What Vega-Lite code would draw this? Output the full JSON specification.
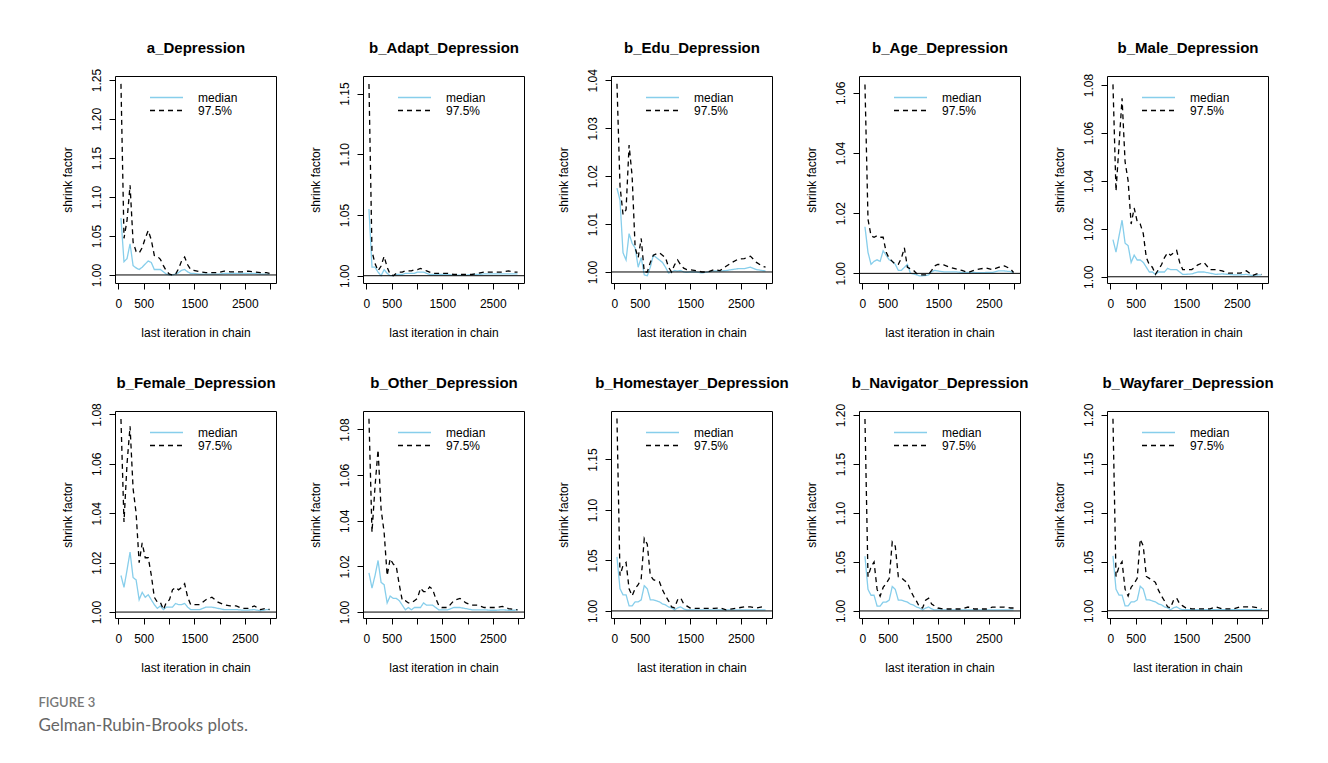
{
 "$schema": "https://vega.github.io/schema/vega-lite/v6.json",
 "padding": {"left": 38, "top": 39, "right": 50, "bottom": 30},
 "background": "white",
 "datasets": {"gr": [
{"p":"a","x":50,"m":1.073,"q":1.245},{"p":"a","x":110,"m":1.017,"q":1.047},{"p":"a","x":170,"m":1.021,"q":1.07},{"p":"a","x":230,"m":1.04,"q":1.115},{"p":"a","x":290,"m":1.012,"q":1.042},{"p":"a","x":350,"m":1.009,"q":1.03},{"p":"a","x":410,"m":1.007,"q":1.028},{"p":"a","x":470,"m":1.01,"q":1.035},{"p":"a","x":530,"m":1.014,"q":1.047},{"p":"a","x":590,"m":1.018,"q":1.057},{"p":"a","x":650,"m":1.016,"q":1.045},{"p":"a","x":710,"m":1.007,"q":1.025},{"p":"a","x":770,"m":1.007,"q":1.024},{"p":"a","x":830,"m":1.007,"q":1.02},{"p":"a","x":890,"m":1.004,"q":1.012},{"p":"a","x":950,"m":1.001,"q":1.005},{"p":"a","x":1010,"m":1.0,"q":1.001},{"p":"a","x":1070,"m":1.0,"q":1.0},{"p":"a","x":1130,"m":1.001,"q":1.001},{"p":"a","x":1190,"m":1.003,"q":1.008},{"p":"a","x":1250,"m":1.006,"q":1.018},{"p":"a","x":1310,"m":1.007,"q":1.023},{"p":"a","x":1370,"m":1.004,"q":1.013},{"p":"a","x":1430,"m":1.002,"q":1.007},{"p":"a","x":1490,"m":1.002,"q":1.006},{"p":"a","x":1610,"m":1.001,"q":1.004},{"p":"a","x":1730,"m":1.001,"q":1.003},{"p":"a","x":1850,"m":1.001,"q":1.003},{"p":"a","x":1970,"m":1.001,"q":1.003},{"p":"a","x":2090,"m":1.002,"q":1.005},{"p":"a","x":2210,"m":1.002,"q":1.004},{"p":"a","x":2330,"m":1.002,"q":1.004},{"p":"a","x":2450,"m":1.002,"q":1.004},{"p":"a","x":2570,"m":1.002,"q":1.005},{"p":"a","x":2690,"m":1.002,"q":1.004},{"p":"a","x":2810,"m":1.001,"q":1.003},{"p":"a","x":2930,"m":1.001,"q":1.003},{"p":"a","x":2990,"m":1.001,"q":1.002},
{"p":"adapt","x":50,"m":1.055,"q":1.158},{"p":"adapt","x":110,"m":1.007,"q":1.02},{"p":"adapt","x":170,"m":1.007,"q":1.01},{"p":"adapt","x":230,"m":1.003,"q":1.004},{"p":"adapt","x":290,"m":1.0,"q":1.008},{"p":"adapt","x":350,"m":1.005,"q":1.016},{"p":"adapt","x":410,"m":1.002,"q":1.007},{"p":"adapt","x":470,"m":1.0,"q":1.001},{"p":"adapt","x":530,"m":1.0,"q":1.0},{"p":"adapt","x":590,"m":1.001,"q":1.002},{"p":"adapt","x":650,"m":1.001,"q":1.003},{"p":"adapt","x":710,"m":1.001,"q":1.003},{"p":"adapt","x":770,"m":1.002,"q":1.004},{"p":"adapt","x":830,"m":1.002,"q":1.004},{"p":"adapt","x":890,"m":1.002,"q":1.004},{"p":"adapt","x":950,"m":1.002,"q":1.005},{"p":"adapt","x":1010,"m":1.003,"q":1.005},{"p":"adapt","x":1070,"m":1.003,"q":1.006},{"p":"adapt","x":1130,"m":1.003,"q":1.005},{"p":"adapt","x":1190,"m":1.002,"q":1.004},{"p":"adapt","x":1250,"m":1.001,"q":1.003},{"p":"adapt","x":1310,"m":1.001,"q":1.002},{"p":"adapt","x":1370,"m":1.001,"q":1.002},{"p":"adapt","x":1430,"m":1.001,"q":1.002},{"p":"adapt","x":1490,"m":1.001,"q":1.002},{"p":"adapt","x":1610,"m":1.001,"q":1.002},{"p":"adapt","x":1730,"m":1.0005,"q":1.001},{"p":"adapt","x":1850,"m":1.0005,"q":1.001},{"p":"adapt","x":1970,"m":1.0005,"q":1.001},{"p":"adapt","x":2090,"m":1.001,"q":1.001},{"p":"adapt","x":2210,"m":1.001,"q":1.002},{"p":"adapt","x":2330,"m":1.0015,"q":1.003},{"p":"adapt","x":2450,"m":1.0015,"q":1.003},{"p":"adapt","x":2570,"m":1.0015,"q":1.003},{"p":"adapt","x":2690,"m":1.0015,"q":1.003},{"p":"adapt","x":2810,"m":1.0015,"q":1.004},{"p":"adapt","x":2930,"m":1.0015,"q":1.003},{"p":"adapt","x":2990,"m":1.0015,"q":1.003},
{"p":"edu","x":50,"m":1.0175,"q":1.0393},{"p":"edu","x":110,"m":1.015,"q":1.018},{"p":"edu","x":170,"m":1.004,"q":1.012},{"p":"edu","x":230,"m":1.0025,"q":1.013},{"p":"edu","x":290,"m":1.008,"q":1.0265},{"p":"edu","x":350,"m":1.006,"q":1.02},{"p":"edu","x":410,"m":1.005,"q":1.005},{"p":"edu","x":470,"m":1.001,"q":1.003},{"p":"edu","x":530,"m":1.003,"q":1.007},{"p":"edu","x":590,"m":0.9994,"q":1.0},{"p":"edu","x":650,"m":0.9992,"q":1.0},{"p":"edu","x":710,"m":1.001,"q":1.002},{"p":"edu","x":770,"m":1.0035,"q":1.0035},{"p":"edu","x":830,"m":1.003,"q":1.0038},{"p":"edu","x":890,"m":1.0025,"q":1.004},{"p":"edu","x":950,"m":1.002,"q":1.0035},{"p":"edu","x":1010,"m":1.001,"q":1.003},{"p":"edu","x":1070,"m":0.9998,"q":1.001},{"p":"edu","x":1130,"m":1.0,"q":1.0},{"p":"edu","x":1190,"m":1.0003,"q":1.0015},{"p":"edu","x":1250,"m":1.0002,"q":1.0025},{"p":"edu","x":1310,"m":1.0003,"q":1.0015},{"p":"edu","x":1370,"m":1.0,"q":1.0008},{"p":"edu","x":1430,"m":0.9999,"q":1.0005},{"p":"edu","x":1490,"m":1.0,"q":1.0005},{"p":"edu","x":1610,"m":1.0,"q":1.0003},{"p":"edu","x":1730,"m":0.9998,"q":1.0},{"p":"edu","x":1850,"m":1.0,"q":1.0},{"p":"edu","x":1970,"m":1.0002,"q":1.0005},{"p":"edu","x":2090,"m":1.0002,"q":1.0003},{"p":"edu","x":2210,"m":1.0003,"q":1.0012},{"p":"edu","x":2330,"m":1.0005,"q":1.002},{"p":"edu","x":2450,"m":1.0007,"q":1.0027},{"p":"edu","x":2570,"m":1.0007,"q":1.0028},{"p":"edu","x":2690,"m":1.001,"q":1.0033},{"p":"edu","x":2810,"m":1.0005,"q":1.002},{"p":"edu","x":2930,"m":1.0003,"q":1.0012},{"p":"edu","x":2990,"m":1.0002,"q":1.001},
{"p":"age","x":50,"m":1.0155,"q":1.0628},{"p":"age","x":110,"m":1.007,"q":1.018},{"p":"age","x":170,"m":1.003,"q":1.0125},{"p":"age","x":230,"m":1.004,"q":1.012},{"p":"age","x":290,"m":1.0045,"q":1.0125},{"p":"age","x":350,"m":1.004,"q":1.012},{"p":"age","x":410,"m":1.0075,"q":1.012},{"p":"age","x":470,"m":1.006,"q":1.007},{"p":"age","x":530,"m":1.0045,"q":1.005},{"p":"age","x":590,"m":1.004,"q":1.004},{"p":"age","x":650,"m":1.003,"q":1.003},{"p":"age","x":710,"m":1.001,"q":1.003},{"p":"age","x":770,"m":1.001,"q":1.005},{"p":"age","x":830,"m":1.002,"q":1.0085},{"p":"age","x":890,"m":1.003,"q":1.002},{"p":"age","x":950,"m":1.0,"q":1.0015},{"p":"age","x":1010,"m":0.9998,"q":1.001},{"p":"age","x":1070,"m":0.9995,"q":1.0},{"p":"age","x":1130,"m":0.9992,"q":0.9995},{"p":"age","x":1190,"m":0.9992,"q":0.9995},{"p":"age","x":1250,"m":0.9993,"q":0.9995},{"p":"age","x":1310,"m":0.9995,"q":0.9997},{"p":"age","x":1370,"m":1.0005,"q":1.001},{"p":"age","x":1430,"m":1.001,"q":1.0025},{"p":"age","x":1490,"m":1.0008,"q":1.003},{"p":"age","x":1610,"m":1.0005,"q":1.0028},{"p":"age","x":1730,"m":1.0005,"q":1.002},{"p":"age","x":1850,"m":1.0005,"q":1.0015},{"p":"age","x":1970,"m":1.0003,"q":1.001},{"p":"age","x":2090,"m":1.0003,"q":1.0003},{"p":"age","x":2210,"m":1.0003,"q":1.001},{"p":"age","x":2330,"m":1.0002,"q":1.0015},{"p":"age","x":2450,"m":1.0003,"q":1.0018},{"p":"age","x":2570,"m":1.0003,"q":1.0012},{"p":"age","x":2690,"m":1.0008,"q":1.002},{"p":"age","x":2810,"m":1.0008,"q":1.0025},{"p":"age","x":2930,"m":1.0006,"q":1.0015},{"p":"age","x":2990,"m":1.0002,"q":1.0003},
{"p":"male","x":50,"m":1.0155,"q":1.0803},{"p":"male","x":110,"m":1.0103,"q":1.0357},{"p":"male","x":170,"m":1.017,"q":1.055},{"p":"male","x":230,"m":1.0236,"q":1.0745},{"p":"male","x":290,"m":1.014,"q":1.048},{"p":"male","x":350,"m":1.013,"q":1.04},{"p":"male","x":410,"m":1.006,"q":1.022},{"p":"male","x":470,"m":1.009,"q":1.0287},{"p":"male","x":530,"m":1.007,"q":1.023},{"p":"male","x":590,"m":1.007,"q":1.022},{"p":"male","x":650,"m":1.006,"q":1.018},{"p":"male","x":710,"m":1.004,"q":1.008},{"p":"male","x":770,"m":1.002,"q":1.005},{"p":"male","x":830,"m":1.002,"q":1.004},{"p":"male","x":890,"m":1.001,"q":1.001},{"p":"male","x":950,"m":1.002,"q":1.003},{"p":"male","x":1010,"m":1.002,"q":1.005},{"p":"male","x":1070,"m":1.002,"q":1.008},{"p":"male","x":1130,"m":1.0035,"q":1.01},{"p":"male","x":1190,"m":1.003,"q":1.009},{"p":"male","x":1250,"m":1.003,"q":1.01},{"p":"male","x":1310,"m":1.003,"q":1.011},{"p":"male","x":1370,"m":1.002,"q":1.006},{"p":"male","x":1430,"m":1.001,"q":1.003},{"p":"male","x":1490,"m":1.001,"q":1.003},{"p":"male","x":1610,"m":1.0012,"q":1.003},{"p":"male","x":1730,"m":1.002,"q":1.005},{"p":"male","x":1850,"m":1.002,"q":1.006},{"p":"male","x":1970,"m":1.0015,"q":1.003},{"p":"male","x":2090,"m":1.001,"q":1.003},{"p":"male","x":2210,"m":1.0012,"q":1.0025},{"p":"male","x":2330,"m":1.001,"q":1.0015},{"p":"male","x":2450,"m":1.0008,"q":1.0015},{"p":"male","x":2570,"m":1.0008,"q":1.0015},{"p":"male","x":2690,"m":1.001,"q":1.0025},{"p":"male","x":2810,"m":1.0005,"q":1.0005},{"p":"male","x":2930,"m":1.0008,"q":1.0015},{"p":"male","x":2990,"m":1.0008,"q":1.001},
{"p":"female","x":50,"m":1.0148,"q":1.0782},{"p":"female","x":110,"m":1.01,"q":1.0365},{"p":"female","x":170,"m":1.017,"q":1.06},{"p":"female","x":230,"m":1.0243,"q":1.0752},{"p":"female","x":290,"m":1.014,"q":1.05},{"p":"female","x":350,"m":1.013,"q":1.04},{"p":"female","x":410,"m":1.005,"q":1.02},{"p":"female","x":470,"m":1.008,"q":1.028},{"p":"female","x":530,"m":1.006,"q":1.022},{"p":"female","x":590,"m":1.007,"q":1.022},{"p":"female","x":650,"m":1.005,"q":1.015},{"p":"female","x":710,"m":1.003,"q":1.006},{"p":"female","x":770,"m":1.0015,"q":1.004},{"p":"female","x":830,"m":1.0025,"q":1.004},{"p":"female","x":890,"m":1.001,"q":1.001},{"p":"female","x":950,"m":1.002,"q":1.004},{"p":"female","x":1010,"m":1.002,"q":1.005},{"p":"female","x":1070,"m":1.002,"q":1.009},{"p":"female","x":1130,"m":1.0035,"q":1.01},{"p":"female","x":1190,"m":1.003,"q":1.009},{"p":"female","x":1250,"m":1.003,"q":1.01},{"p":"female","x":1310,"m":1.0035,"q":1.0115},{"p":"female","x":1370,"m":1.002,"q":1.006},{"p":"female","x":1430,"m":1.001,"q":1.003},{"p":"female","x":1490,"m":1.001,"q":1.003},{"p":"female","x":1610,"m":1.001,"q":1.003},{"p":"female","x":1730,"m":1.002,"q":1.005},{"p":"female","x":1850,"m":1.002,"q":1.006},{"p":"female","x":1970,"m":1.0015,"q":1.004},{"p":"female","x":2090,"m":1.001,"q":1.003},{"p":"female","x":2210,"m":1.001,"q":1.0025},{"p":"female","x":2330,"m":1.001,"q":1.0025},{"p":"female","x":2450,"m":1.0008,"q":1.0015},{"p":"female","x":2570,"m":1.0008,"q":1.0015},{"p":"female","x":2690,"m":1.001,"q":1.0025},{"p":"female","x":2810,"m":1.0005,"q":1.001},{"p":"female","x":2930,"m":1.001,"q":1.0015},{"p":"female","x":2990,"m":1.001,"q":1.001},
{"p":"other","x":50,"m":1.0172,"q":1.0847},{"p":"other","x":110,"m":1.0105,"q":1.035},{"p":"other","x":170,"m":1.016,"q":1.055},{"p":"other","x":230,"m":1.0226,"q":1.0711},{"p":"other","x":290,"m":1.013,"q":1.045},{"p":"other","x":350,"m":1.012,"q":1.035},{"p":"other","x":410,"m":1.004,"q":1.016},{"p":"other","x":470,"m":1.007,"q":1.0234},{"p":"other","x":530,"m":1.006,"q":1.021},{"p":"other","x":590,"m":1.006,"q":1.02},{"p":"other","x":650,"m":1.005,"q":1.012},{"p":"other","x":710,"m":1.003,"q":1.005},{"p":"other","x":770,"m":1.001,"q":1.005},{"p":"other","x":830,"m":1.002,"q":1.004},{"p":"other","x":890,"m":1.001,"q":1.004},{"p":"other","x":950,"m":1.002,"q":1.005},{"p":"other","x":1010,"m":1.002,"q":1.006},{"p":"other","x":1070,"m":1.002,"q":1.0105},{"p":"other","x":1130,"m":1.004,"q":1.009},{"p":"other","x":1190,"m":1.003,"q":1.009},{"p":"other","x":1250,"m":1.003,"q":1.011},{"p":"other","x":1310,"m":1.003,"q":1.01},{"p":"other","x":1370,"m":1.002,"q":1.006},{"p":"other","x":1430,"m":1.001,"q":1.003},{"p":"other","x":1490,"m":1.001,"q":1.002},{"p":"other","x":1610,"m":1.001,"q":1.002},{"p":"other","x":1730,"m":1.002,"q":1.005},{"p":"other","x":1850,"m":1.002,"q":1.006},{"p":"other","x":1970,"m":1.0015,"q":1.004},{"p":"other","x":2090,"m":1.001,"q":1.003},{"p":"other","x":2210,"m":1.001,"q":1.003},{"p":"other","x":2330,"m":1.001,"q":1.002},{"p":"other","x":2450,"m":1.0008,"q":1.002},{"p":"other","x":2570,"m":1.0008,"q":1.002},{"p":"other","x":2690,"m":1.001,"q":1.0025},{"p":"other","x":2810,"m":1.0008,"q":1.0015},{"p":"other","x":2930,"m":1.0008,"q":1.0012},{"p":"other","x":2990,"m":1.001,"q":1.001},
{"p":"home","x":50,"m":1.0535,"q":1.1906},{"p":"home","x":110,"m":1.022,"q":1.035},{"p":"home","x":170,"m":1.016,"q":1.045},{"p":"home","x":230,"m":1.016,"q":1.048},{"p":"home","x":290,"m":1.005,"q":1.022},{"p":"home","x":350,"m":1.005,"q":1.015},{"p":"home","x":410,"m":1.009,"q":1.022},{"p":"home","x":470,"m":1.009,"q":1.026},{"p":"home","x":530,"m":1.011,"q":1.032},{"p":"home","x":590,"m":1.025,"q":1.0718},{"p":"home","x":650,"m":1.022,"q":1.066},{"p":"home","x":710,"m":1.011,"q":1.035},{"p":"home","x":770,"m":1.011,"q":1.031},{"p":"home","x":830,"m":1.01,"q":1.03},{"p":"home","x":890,"m":1.009,"q":1.029},{"p":"home","x":950,"m":1.007,"q":1.021},{"p":"home","x":1010,"m":1.006,"q":1.015},{"p":"home","x":1070,"m":1.004,"q":1.01},{"p":"home","x":1130,"m":1.003,"q":1.004},{"p":"home","x":1190,"m":1.001,"q":1.003},{"p":"home","x":1250,"m":1.003,"q":1.011},{"p":"home","x":1310,"m":1.004,"q":1.013},{"p":"home","x":1370,"m":1.002,"q":1.007},{"p":"home","x":1430,"m":1.001,"q":1.005},{"p":"home","x":1490,"m":1.001,"q":1.003},{"p":"home","x":1610,"m":1.001,"q":1.0025},{"p":"home","x":1730,"m":1.001,"q":1.0025},{"p":"home","x":1850,"m":1.001,"q":1.0025},{"p":"home","x":1970,"m":1.001,"q":1.0025},{"p":"home","x":2090,"m":1.001,"q":1.003},{"p":"home","x":2210,"m":1.001,"q":1.001},{"p":"home","x":2330,"m":1.001,"q":1.002},{"p":"home","x":2450,"m":1.001,"q":1.003},{"p":"home","x":2570,"m":1.001,"q":1.004},{"p":"home","x":2690,"m":1.001,"q":1.004},{"p":"home","x":2810,"m":1.001,"q":1.003},{"p":"home","x":2930,"m":1.001,"q":1.004},{"p":"home","x":2990,"m":1.001,"q":1.003},
{"p":"nav","x":50,"m":1.0558,"q":1.196},{"p":"nav","x":110,"m":1.022,"q":1.035},{"p":"nav","x":170,"m":1.016,"q":1.045},{"p":"nav","x":230,"m":1.016,"q":1.05},{"p":"nav","x":290,"m":1.005,"q":1.022},{"p":"nav","x":350,"m":1.005,"q":1.015},{"p":"nav","x":410,"m":1.009,"q":1.024},{"p":"nav","x":470,"m":1.009,"q":1.028},{"p":"nav","x":530,"m":1.011,"q":1.033},{"p":"nav","x":590,"m":1.025,"q":1.0705},{"p":"nav","x":650,"m":1.022,"q":1.066},{"p":"nav","x":710,"m":1.011,"q":1.035},{"p":"nav","x":770,"m":1.011,"q":1.034},{"p":"nav","x":830,"m":1.01,"q":1.031},{"p":"nav","x":890,"m":1.009,"q":1.029},{"p":"nav","x":950,"m":1.007,"q":1.021},{"p":"nav","x":1010,"m":1.006,"q":1.015},{"p":"nav","x":1070,"m":1.004,"q":1.01},{"p":"nav","x":1130,"m":1.003,"q":1.004},{"p":"nav","x":1190,"m":1.001,"q":1.003},{"p":"nav","x":1250,"m":1.003,"q":1.011},{"p":"nav","x":1310,"m":1.004,"q":1.013},{"p":"nav","x":1370,"m":1.002,"q":1.007},{"p":"nav","x":1430,"m":1.001,"q":1.005},{"p":"nav","x":1490,"m":1.001,"q":1.003},{"p":"nav","x":1610,"m":1.001,"q":1.002},{"p":"nav","x":1730,"m":1.001,"q":1.002},{"p":"nav","x":1850,"m":1.001,"q":1.002},{"p":"nav","x":1970,"m":1.001,"q":1.002},{"p":"nav","x":2090,"m":1.001,"q":1.004},{"p":"nav","x":2210,"m":1.001,"q":1.002},{"p":"nav","x":2330,"m":1.001,"q":1.002},{"p":"nav","x":2450,"m":1.001,"q":1.002},{"p":"nav","x":2570,"m":1.001,"q":1.004},{"p":"nav","x":2690,"m":1.001,"q":1.004},{"p":"nav","x":2810,"m":1.001,"q":1.004},{"p":"nav","x":2930,"m":1.001,"q":1.003},{"p":"nav","x":2990,"m":1.001,"q":1.003},
{"p":"way","x":50,"m":1.056,"q":1.196},{"p":"way","x":110,"m":1.022,"q":1.035},{"p":"way","x":170,"m":1.016,"q":1.045},{"p":"way","x":230,"m":1.016,"q":1.05},{"p":"way","x":290,"m":1.005,"q":1.022},{"p":"way","x":350,"m":1.005,"q":1.015},{"p":"way","x":410,"m":1.009,"q":1.024},{"p":"way","x":470,"m":1.009,"q":1.028},{"p":"way","x":530,"m":1.011,"q":1.033},{"p":"way","x":590,"m":1.025,"q":1.073},{"p":"way","x":650,"m":1.022,"q":1.066},{"p":"way","x":710,"m":1.011,"q":1.035},{"p":"way","x":770,"m":1.011,"q":1.033},{"p":"way","x":830,"m":1.01,"q":1.031},{"p":"way","x":890,"m":1.009,"q":1.029},{"p":"way","x":950,"m":1.007,"q":1.021},{"p":"way","x":1010,"m":1.006,"q":1.015},{"p":"way","x":1070,"m":1.004,"q":1.01},{"p":"way","x":1130,"m":1.003,"q":1.004},{"p":"way","x":1190,"m":1.001,"q":1.003},{"p":"way","x":1250,"m":1.003,"q":1.011},{"p":"way","x":1310,"m":1.004,"q":1.013},{"p":"way","x":1370,"m":1.002,"q":1.007},{"p":"way","x":1430,"m":1.001,"q":1.005},{"p":"way","x":1490,"m":1.001,"q":1.003},{"p":"way","x":1610,"m":1.001,"q":1.002},{"p":"way","x":1730,"m":1.001,"q":1.002},{"p":"way","x":1850,"m":1.001,"q":1.002},{"p":"way","x":1970,"m":1.001,"q":1.002},{"p":"way","x":2090,"m":1.001,"q":1.004},{"p":"way","x":2210,"m":1.001,"q":1.002},{"p":"way","x":2330,"m":1.001,"q":1.002},{"p":"way","x":2450,"m":1.001,"q":1.002},{"p":"way","x":2570,"m":1.001,"q":1.004},{"p":"way","x":2690,"m":1.001,"q":1.004},{"p":"way","x":2810,"m":1.001,"q":1.004},{"p":"way","x":2930,"m":1.001,"q":1.003},{"p":"way","x":2990,"m":1.001,"q":1.002}
 ]},
 "data": {"name": "gr"},
 "title": {"text": "FIGURE 3", "subtitle": "Gelman-Rubin-Brooks plots.", "orient": "bottom", "anchor": "start", "frame": "bounds", "offset": 23, "dx": -22, "font": "Lato", "fontSize": 13, "fontWeight": 600, "color": "#777777", "subtitleFont": "Lato", "subtitleFontSize": 17, "subtitleColor": "#666666", "subtitlePadding": 8, "baseline": "top"},
 "bounds": "flush",
 "columns": 5,
 "spacing": {"row": 128, "column": 87},
 "resolve": {"scale": {"color": "independent", "strokeDash": "independent"}, "legend": {"color": "independent", "strokeDash": "independent"}},
 "concat": [
    {"width": 161, "height": 207, "resolve": {"axis": {"x": "independent"}}, "layer": [
     {"transform": [{"filter": "datum.p == 'a'"}, {"fold": ["m", "q"], "as": ["series", "value"]}], "mark": {"type": "line", "strokeWidth": 1.3},
      "encoding": {
       "x": {"field": "x", "type": "quantitative", "scale": {"domain": [-68, 3118], "nice": false, "zero": false}, "axis": {"values": [0, 500, 1000, 1500, 2000, 2500, 3000], "format": "d", "labelExpr": "indexof([0,500,1500,2500], datum.value) >= 0 ? datum.label : ''", "title": "last iteration in chain"}},
       "y": {"field": "value", "type": "quantitative", "scale": {"domain": [0.9897, 1.2551], "nice": false, "zero": false}, "axis": {"values": [1, 1.05, 1.1, 1.15, 1.2, 1.25], "format": ".2f", "title": "shrink factor"}},
       "color": {"field": "series", "type": "nominal", "scale": {"domain": ["m", "q"], "range": ["#87CEEB", "#000000"]}, "legend": {"orient": "none", "legendX": 34, "legendY": 15, "title": null, "labelExpr": "datum.label == 'q' ? '97.5%' : 'median'"}},
       "strokeDash": {"field": "series", "type": "nominal", "scale": {"domain": ["m", "q"], "range": [[1, 0], [5, 4]]}, "legend": {"orient": "none", "legendX": 34, "legendY": 15, "title": null, "labelExpr": "datum.label == 'q' ? '97.5%' : 'median'"}}
      }},
     {"data": {"values": [{}]}, "mark": {"type": "rule", "color": "black", "strokeWidth": 1}, "encoding": {"y": {"datum": 1}}},
     {"data": {"values": [{}]}, "mark": {"type": "text", "text": ""}, "encoding": {"x": {"datum": 0, "type": "quantitative", "axis": {"orient": "top", "title": "a_Depression", "domain": false, "ticks": false, "labels": false, "tickSize": 0, "titleFontSize": 15, "titleFontWeight": "bold", "titleBaseline": "alphabetic", "titlePadding": 24}}}}
    ]},
    {"width": 161, "height": 207, "resolve": {"axis": {"x": "independent"}}, "layer": [
     {"transform": [{"filter": "datum.p == 'adapt'"}, {"fold": ["m", "q"], "as": ["series", "value"]}], "mark": {"type": "line", "strokeWidth": 1.3},
      "encoding": {
       "x": {"field": "x", "type": "quantitative", "scale": {"domain": [-68, 3118], "nice": false, "zero": false}, "axis": {"values": [0, 500, 1000, 1500, 2000, 2500, 3000], "format": "d", "labelExpr": "indexof([0,500,1500,2500], datum.value) >= 0 ? datum.label : ''", "title": "last iteration in chain"}},
       "y": {"field": "value", "type": "quantitative", "scale": {"domain": [0.994, 1.1645], "nice": false, "zero": false}, "axis": {"values": [1, 1.05, 1.1, 1.15], "format": ".2f", "title": "shrink factor"}},
       "color": {"field": "series", "type": "nominal", "scale": {"domain": ["m", "q"], "range": ["#87CEEB", "#000000"]}, "legend": {"orient": "none", "legendX": 34, "legendY": 15, "title": null, "labelExpr": "datum.label == 'q' ? '97.5%' : 'median'"}},
       "strokeDash": {"field": "series", "type": "nominal", "scale": {"domain": ["m", "q"], "range": [[1, 0], [5, 4]]}, "legend": {"orient": "none", "legendX": 34, "legendY": 15, "title": null, "labelExpr": "datum.label == 'q' ? '97.5%' : 'median'"}}
      }},
     {"data": {"values": [{}]}, "mark": {"type": "rule", "color": "black", "strokeWidth": 1}, "encoding": {"y": {"datum": 1}}},
     {"data": {"values": [{}]}, "mark": {"type": "text", "text": ""}, "encoding": {"x": {"datum": 0, "type": "quantitative", "axis": {"orient": "top", "title": "b_Adapt_Depression", "domain": false, "ticks": false, "labels": false, "tickSize": 0, "titleFontSize": 15, "titleFontWeight": "bold", "titleBaseline": "alphabetic", "titlePadding": 24}}}}
    ]},
    {"width": 161, "height": 207, "resolve": {"axis": {"x": "independent"}}, "layer": [
     {"transform": [{"filter": "datum.p == 'edu'"}, {"fold": ["m", "q"], "as": ["series", "value"]}], "mark": {"type": "line", "strokeWidth": 1.3},
      "encoding": {
       "x": {"field": "x", "type": "quantitative", "scale": {"domain": [-68, 3118], "nice": false, "zero": false}, "axis": {"values": [0, 500, 1000, 1500, 2000, 2500, 3000], "format": "d", "labelExpr": "indexof([0,500,1500,2500], datum.value) >= 0 ? datum.label : ''", "title": "last iteration in chain"}},
       "y": {"field": "value", "type": "quantitative", "scale": {"domain": [0.9977, 1.0409], "nice": false, "zero": false}, "axis": {"values": [1, 1.01, 1.02, 1.03, 1.04], "format": ".2f", "title": "shrink factor"}},
       "color": {"field": "series", "type": "nominal", "scale": {"domain": ["m", "q"], "range": ["#87CEEB", "#000000"]}, "legend": {"orient": "none", "legendX": 34, "legendY": 15, "title": null, "labelExpr": "datum.label == 'q' ? '97.5%' : 'median'"}},
       "strokeDash": {"field": "series", "type": "nominal", "scale": {"domain": ["m", "q"], "range": [[1, 0], [5, 4]]}, "legend": {"orient": "none", "legendX": 34, "legendY": 15, "title": null, "labelExpr": "datum.label == 'q' ? '97.5%' : 'median'"}}
      }},
     {"data": {"values": [{}]}, "mark": {"type": "rule", "color": "black", "strokeWidth": 1}, "encoding": {"y": {"datum": 1}}},
     {"data": {"values": [{}]}, "mark": {"type": "text", "text": ""}, "encoding": {"x": {"datum": 0, "type": "quantitative", "axis": {"orient": "top", "title": "b_Edu_Depression", "domain": false, "ticks": false, "labels": false, "tickSize": 0, "titleFontSize": 15, "titleFontWeight": "bold", "titleBaseline": "alphabetic", "titlePadding": 24}}}}
    ]},
    {"width": 161, "height": 207, "resolve": {"axis": {"x": "independent"}}, "layer": [
     {"transform": [{"filter": "datum.p == 'age'"}, {"fold": ["m", "q"], "as": ["series", "value"]}], "mark": {"type": "line", "strokeWidth": 1.3},
      "encoding": {
       "x": {"field": "x", "type": "quantitative", "scale": {"domain": [-68, 3118], "nice": false, "zero": false}, "axis": {"values": [0, 500, 1000, 1500, 2000, 2500, 3000], "format": "d", "labelExpr": "indexof([0,500,1500,2500], datum.value) >= 0 ? datum.label : ''", "title": "last iteration in chain"}},
       "y": {"field": "value", "type": "quantitative", "scale": {"domain": [0.9968, 1.0656], "nice": false, "zero": false}, "axis": {"values": [1, 1.01, 1.02, 1.03, 1.04, 1.05, 1.06], "format": ".2f", "labelExpr": "round(datum.value * 100) % 2 == 0 ? datum.label : ''", "title": "shrink factor"}},
       "color": {"field": "series", "type": "nominal", "scale": {"domain": ["m", "q"], "range": ["#87CEEB", "#000000"]}, "legend": {"orient": "none", "legendX": 34, "legendY": 15, "title": null, "labelExpr": "datum.label == 'q' ? '97.5%' : 'median'"}},
       "strokeDash": {"field": "series", "type": "nominal", "scale": {"domain": ["m", "q"], "range": [[1, 0], [5, 4]]}, "legend": {"orient": "none", "legendX": 34, "legendY": 15, "title": null, "labelExpr": "datum.label == 'q' ? '97.5%' : 'median'"}}
      }},
     {"data": {"values": [{}]}, "mark": {"type": "rule", "color": "black", "strokeWidth": 1}, "encoding": {"y": {"datum": 1}}},
     {"data": {"values": [{}]}, "mark": {"type": "text", "text": ""}, "encoding": {"x": {"datum": 0, "type": "quantitative", "axis": {"orient": "top", "title": "b_Age_Depression", "domain": false, "ticks": false, "labels": false, "tickSize": 0, "titleFontSize": 15, "titleFontWeight": "bold", "titleBaseline": "alphabetic", "titlePadding": 24}}}}
    ]},
    {"width": 161, "height": 207, "resolve": {"axis": {"x": "independent"}}, "layer": [
     {"transform": [{"filter": "datum.p == 'male'"}, {"fold": ["m", "q"], "as": ["series", "value"]}], "mark": {"type": "line", "strokeWidth": 1.3},
      "encoding": {
       "x": {"field": "x", "type": "quantitative", "scale": {"domain": [-68, 3118], "nice": false, "zero": false}, "axis": {"values": [0, 500, 1000, 1500, 2000, 2500, 3000], "format": "d", "labelExpr": "indexof([0,500,1500,2500], datum.value) >= 0 ? datum.label : ''", "title": "last iteration in chain"}},
       "y": {"field": "value", "type": "quantitative", "scale": {"domain": [0.9974, 1.0838], "nice": false, "zero": false}, "axis": {"values": [1, 1.02, 1.04, 1.06, 1.08], "format": ".2f", "title": "shrink factor"}},
       "color": {"field": "series", "type": "nominal", "scale": {"domain": ["m", "q"], "range": ["#87CEEB", "#000000"]}, "legend": {"orient": "none", "legendX": 34, "legendY": 15, "title": null, "labelExpr": "datum.label == 'q' ? '97.5%' : 'median'"}},
       "strokeDash": {"field": "series", "type": "nominal", "scale": {"domain": ["m", "q"], "range": [[1, 0], [5, 4]]}, "legend": {"orient": "none", "legendX": 34, "legendY": 15, "title": null, "labelExpr": "datum.label == 'q' ? '97.5%' : 'median'"}}
      }},
     {"data": {"values": [{}]}, "mark": {"type": "rule", "color": "black", "strokeWidth": 1}, "encoding": {"y": {"datum": 1}}},
     {"data": {"values": [{}]}, "mark": {"type": "text", "text": ""}, "encoding": {"x": {"datum": 0, "type": "quantitative", "axis": {"orient": "top", "title": "b_Male_Depression", "domain": false, "ticks": false, "labels": false, "tickSize": 0, "titleFontSize": 15, "titleFontWeight": "bold", "titleBaseline": "alphabetic", "titlePadding": 24}}}}
    ]},
    {"width": 161, "height": 207, "resolve": {"axis": {"x": "independent"}}, "layer": [
     {"transform": [{"filter": "datum.p == 'female'"}, {"fold": ["m", "q"], "as": ["series", "value"]}], "mark": {"type": "line", "strokeWidth": 1.3},
      "encoding": {
       "x": {"field": "x", "type": "quantitative", "scale": {"domain": [-68, 3118], "nice": false, "zero": false}, "axis": {"values": [0, 500, 1000, 1500, 2000, 2500, 3000], "format": "d", "labelExpr": "indexof([0,500,1500,2500], datum.value) >= 0 ? datum.label : ''", "title": "last iteration in chain"}},
       "y": {"field": "value", "type": "quantitative", "scale": {"domain": [0.9976, 1.0814], "nice": false, "zero": false}, "axis": {"values": [1, 1.02, 1.04, 1.06, 1.08], "format": ".2f", "title": "shrink factor"}},
       "color": {"field": "series", "type": "nominal", "scale": {"domain": ["m", "q"], "range": ["#87CEEB", "#000000"]}, "legend": {"orient": "none", "legendX": 34, "legendY": 15, "title": null, "labelExpr": "datum.label == 'q' ? '97.5%' : 'median'"}},
       "strokeDash": {"field": "series", "type": "nominal", "scale": {"domain": ["m", "q"], "range": [[1, 0], [5, 4]]}, "legend": {"orient": "none", "legendX": 34, "legendY": 15, "title": null, "labelExpr": "datum.label == 'q' ? '97.5%' : 'median'"}}
      }},
     {"data": {"values": [{}]}, "mark": {"type": "rule", "color": "black", "strokeWidth": 1}, "encoding": {"y": {"datum": 1}}},
     {"data": {"values": [{}]}, "mark": {"type": "text", "text": ""}, "encoding": {"x": {"datum": 0, "type": "quantitative", "axis": {"orient": "top", "title": "b_Female_Depression", "domain": false, "ticks": false, "labels": false, "tickSize": 0, "titleFontSize": 15, "titleFontWeight": "bold", "titleBaseline": "alphabetic", "titlePadding": 24}}}}
    ]},
    {"width": 161, "height": 207, "resolve": {"axis": {"x": "independent"}}, "layer": [
     {"transform": [{"filter": "datum.p == 'other'"}, {"fold": ["m", "q"], "as": ["series", "value"]}], "mark": {"type": "line", "strokeWidth": 1.3},
      "encoding": {
       "x": {"field": "x", "type": "quantitative", "scale": {"domain": [-68, 3118], "nice": false, "zero": false}, "axis": {"values": [0, 500, 1000, 1500, 2000, 2500, 3000], "format": "d", "labelExpr": "indexof([0,500,1500,2500], datum.value) >= 0 ? datum.label : ''", "title": "last iteration in chain"}},
       "y": {"field": "value", "type": "quantitative", "scale": {"domain": [0.9974, 1.0881], "nice": false, "zero": false}, "axis": {"values": [1, 1.02, 1.04, 1.06, 1.08], "format": ".2f", "title": "shrink factor"}},
       "color": {"field": "series", "type": "nominal", "scale": {"domain": ["m", "q"], "range": ["#87CEEB", "#000000"]}, "legend": {"orient": "none", "legendX": 34, "legendY": 15, "title": null, "labelExpr": "datum.label == 'q' ? '97.5%' : 'median'"}},
       "strokeDash": {"field": "series", "type": "nominal", "scale": {"domain": ["m", "q"], "range": [[1, 0], [5, 4]]}, "legend": {"orient": "none", "legendX": 34, "legendY": 15, "title": null, "labelExpr": "datum.label == 'q' ? '97.5%' : 'median'"}}
      }},
     {"data": {"values": [{}]}, "mark": {"type": "rule", "color": "black", "strokeWidth": 1}, "encoding": {"y": {"datum": 1}}},
     {"data": {"values": [{}]}, "mark": {"type": "text", "text": ""}, "encoding": {"x": {"datum": 0, "type": "quantitative", "axis": {"orient": "top", "title": "b_Other_Depression", "domain": false, "ticks": false, "labels": false, "tickSize": 0, "titleFontSize": 15, "titleFontWeight": "bold", "titleBaseline": "alphabetic", "titlePadding": 24}}}}
    ]},
    {"width": 161, "height": 207, "resolve": {"axis": {"x": "independent"}}, "layer": [
     {"transform": [{"filter": "datum.p == 'home'"}, {"fold": ["m", "q"], "as": ["series", "value"]}], "mark": {"type": "line", "strokeWidth": 1.3},
      "encoding": {
       "x": {"field": "x", "type": "quantitative", "scale": {"domain": [-68, 3118], "nice": false, "zero": false}, "axis": {"values": [0, 500, 1000, 1500, 2000, 2500, 3000], "format": "d", "labelExpr": "indexof([0,500,1500,2500], datum.value) >= 0 ? datum.label : ''", "title": "last iteration in chain"}},
       "y": {"field": "value", "type": "quantitative", "scale": {"domain": [0.993, 1.198], "nice": false, "zero": false}, "axis": {"values": [1, 1.05, 1.1, 1.15], "format": ".2f", "title": "shrink factor"}},
       "color": {"field": "series", "type": "nominal", "scale": {"domain": ["m", "q"], "range": ["#87CEEB", "#000000"]}, "legend": {"orient": "none", "legendX": 34, "legendY": 15, "title": null, "labelExpr": "datum.label == 'q' ? '97.5%' : 'median'"}},
       "strokeDash": {"field": "series", "type": "nominal", "scale": {"domain": ["m", "q"], "range": [[1, 0], [5, 4]]}, "legend": {"orient": "none", "legendX": 34, "legendY": 15, "title": null, "labelExpr": "datum.label == 'q' ? '97.5%' : 'median'"}}
      }},
     {"data": {"values": [{}]}, "mark": {"type": "rule", "color": "black", "strokeWidth": 1}, "encoding": {"y": {"datum": 1}}},
     {"data": {"values": [{}]}, "mark": {"type": "text", "text": ""}, "encoding": {"x": {"datum": 0, "type": "quantitative", "axis": {"orient": "top", "title": "b_Homestayer_Depression", "domain": false, "ticks": false, "labels": false, "tickSize": 0, "titleFontSize": 15, "titleFontWeight": "bold", "titleBaseline": "alphabetic", "titlePadding": 24}}}}
    ]},
    {"width": 161, "height": 207, "resolve": {"axis": {"x": "independent"}}, "layer": [
     {"transform": [{"filter": "datum.p == 'nav'"}, {"fold": ["m", "q"], "as": ["series", "value"]}], "mark": {"type": "line", "strokeWidth": 1.3},
      "encoding": {
       "x": {"field": "x", "type": "quantitative", "scale": {"domain": [-68, 3118], "nice": false, "zero": false}, "axis": {"values": [0, 500, 1000, 1500, 2000, 2500, 3000], "format": "d", "labelExpr": "indexof([0,500,1500,2500], datum.value) >= 0 ? datum.label : ''", "title": "last iteration in chain"}},
       "y": {"field": "value", "type": "quantitative", "scale": {"domain": [0.9928, 1.2041], "nice": false, "zero": false}, "axis": {"values": [1, 1.05, 1.1, 1.15, 1.2], "format": ".2f", "title": "shrink factor"}},
       "color": {"field": "series", "type": "nominal", "scale": {"domain": ["m", "q"], "range": ["#87CEEB", "#000000"]}, "legend": {"orient": "none", "legendX": 34, "legendY": 15, "title": null, "labelExpr": "datum.label == 'q' ? '97.5%' : 'median'"}},
       "strokeDash": {"field": "series", "type": "nominal", "scale": {"domain": ["m", "q"], "range": [[1, 0], [5, 4]]}, "legend": {"orient": "none", "legendX": 34, "legendY": 15, "title": null, "labelExpr": "datum.label == 'q' ? '97.5%' : 'median'"}}
      }},
     {"data": {"values": [{}]}, "mark": {"type": "rule", "color": "black", "strokeWidth": 1}, "encoding": {"y": {"datum": 1}}},
     {"data": {"values": [{}]}, "mark": {"type": "text", "text": ""}, "encoding": {"x": {"datum": 0, "type": "quantitative", "axis": {"orient": "top", "title": "b_Navigator_Depression", "domain": false, "ticks": false, "labels": false, "tickSize": 0, "titleFontSize": 15, "titleFontWeight": "bold", "titleBaseline": "alphabetic", "titlePadding": 24}}}}
    ]},
    {"width": 161, "height": 207, "resolve": {"axis": {"x": "independent"}}, "layer": [
     {"transform": [{"filter": "datum.p == 'way'"}, {"fold": ["m", "q"], "as": ["series", "value"]}], "mark": {"type": "line", "strokeWidth": 1.3},
      "encoding": {
       "x": {"field": "x", "type": "quantitative", "scale": {"domain": [-68, 3118], "nice": false, "zero": false}, "axis": {"values": [0, 500, 1000, 1500, 2000, 2500, 3000], "format": "d", "labelExpr": "indexof([0,500,1500,2500], datum.value) >= 0 ? datum.label : ''", "title": "last iteration in chain"}},
       "y": {"field": "value", "type": "quantitative", "scale": {"domain": [0.9926, 1.2038], "nice": false, "zero": false}, "axis": {"values": [1, 1.05, 1.1, 1.15, 1.2], "format": ".2f", "title": "shrink factor"}},
       "color": {"field": "series", "type": "nominal", "scale": {"domain": ["m", "q"], "range": ["#87CEEB", "#000000"]}, "legend": {"orient": "none", "legendX": 34, "legendY": 15, "title": null, "labelExpr": "datum.label == 'q' ? '97.5%' : 'median'"}},
       "strokeDash": {"field": "series", "type": "nominal", "scale": {"domain": ["m", "q"], "range": [[1, 0], [5, 4]]}, "legend": {"orient": "none", "legendX": 34, "legendY": 15, "title": null, "labelExpr": "datum.label == 'q' ? '97.5%' : 'median'"}}
      }},
     {"data": {"values": [{}]}, "mark": {"type": "rule", "color": "black", "strokeWidth": 1}, "encoding": {"y": {"datum": 1}}},
     {"data": {"values": [{}]}, "mark": {"type": "text", "text": ""}, "encoding": {"x": {"datum": 0, "type": "quantitative", "axis": {"orient": "top", "title": "b_Wayfarer_Depression", "domain": false, "ticks": false, "labels": false, "tickSize": 0, "titleFontSize": 15, "titleFontWeight": "bold", "titleBaseline": "alphabetic", "titlePadding": 24}}}}
    ]}
 ],
 "config": {
  "font": "Liberation Sans",
  "view": {"stroke": "black", "strokeWidth": 1},
  "axis": {"grid": false, "domain": false, "tickColor": "black", "tickSize": 6, "tickWidth": 1, "labelColor": "black", "labelFontSize": 12, "labelFont": "Liberation Sans", "titleFont": "Liberation Sans", "titleFontSize": 12, "titleFontWeight": "normal", "titleColor": "black", "labelFlush": false, "labelOverlap": false},
  "axisX": {"labelPadding": 9.5, "titlePadding": 18},
  "axisY": {"labelAngle": 270, "labelAlign": "center", "labelBaseline": "bottom", "labelPadding": 6, "titlePadding": 16},
  "legend": {"symbolType": "stroke", "symbolSize": 1089, "symbolStrokeWidth": 1.3, "labelFontSize": 12, "labelFont": "Liberation Sans", "labelColor": "black", "labelOffset": 14, "clipHeight": 13, "rowPadding": 0, "padding": 0}
 }
}
